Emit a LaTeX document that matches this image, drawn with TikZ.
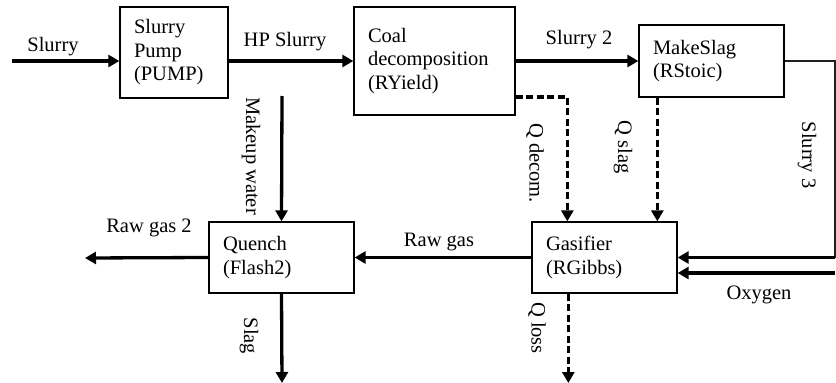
\documentclass[tikz,border=0pt]{standalone}
\usepackage{fontspec}
\setmainfont{Liberation Serif}
\usetikzlibrary{arrows.meta, positioning, calc}
\definecolor{linegrey}{HTML}{202020}

\begin{document}
\begin{tikzpicture}[
    x=1pt, y=-1pt,
    font=\fontsize{20.5}{23.5}\selectfont,
    >={Triangle[length=11pt,width=12pt]},
    unit/.style={draw=black, line width=1.3pt, rectangle, align=left, inner xsep=14pt, inner ysep=0pt},
    flow/.style={->, line width=3.3pt},
    heat/.style={->, line width=3.3pt, dash pattern=on 7pt off 3.5pt},
    thinline/.style={draw=linegrey, line width=1.5pt},
    tag/.style={inner sep=1pt},
    vtag/.style={inner sep=1pt, rotate=-90},
]
\useasboundingbox (0,0) rectangle (836,383);

% ================= UNIT BLOCKS =================
\node[unit, minimum width=108pt, minimum height=91pt, text width=80pt] (pump) at (174,52.5) {Slurry\\Pump\\(PUMP)};
\node[unit, minimum width=161pt, minimum height=108pt, text width=133pt] (coal) at (434.5,61) {Coal\\decomposition\\(RYield)\\[14pt]};
\node[unit, minimum width=145pt, minimum height=72pt, text width=117pt] (slag) at (711.5,61) {MakeSlag\\(RStoic)\\[4pt]};
\node[unit, minimum width=145pt, minimum height=71pt, text width=117pt] (quench) at (281.5,257.5) {Quench\\(Flash2)};
\node[unit, minimum width=145pt, minimum height=71pt, text width=117pt] (gasifier) at (604.5,257.5) {Gasifier\\(RGibbs)};

% ================= FREE ENDS =================
\coordinate (feed) at (12,61);
\coordinate (water) at (282,96);
\coordinate (gasout) at (85,258);
\coordinate (slagout) at (282,383);
\coordinate (corner) at (835,61);
\coordinate (s3in) at (835,257.5);
\coordinate (oxyin) at (835,273);
\coordinate (qdec) at ($(gasifier.north west)+(36,0)$);
\coordinate (qslag) at ($(gasifier.north west)+(126,0)$);
\coordinate (qloss) at ($(gasifier.south west)+(37,0)$);

% ================= MAIN STREAMS =================
\draw[flow] (feed) -- (pump.west |- feed);
\draw[flow] (pump.east |- feed) -- (coal.west |- feed);
\draw[flow] (coal.east) -- (slag.west);
\draw[thinline] (slag.east) -- (corner) -- (s3in);
\draw[flow] (s3in) -- (gasifier.east);
\draw[flow] (oxyin) -- (gasifier.east |- oxyin);
\draw[flow] (gasifier.west) -- (quench.east);
\draw[flow] (quench.west) -- (gasout);
\draw[flow] (water) -- (quench.north);
\draw[flow] (quench.south) -- (slagout);

% ================= HEAT STREAMS =================
\draw[heat] (coal.east |- 0,97) -| (qdec);
\draw[heat] (slag.south -| qslag) -- (qslag);
\draw[heat] (qloss) -- (qloss |- slagout);

% ================= LABELS =================
\node[tag] (lfeed) at (53,47) {Slurry};
\node[tag] (lhp) at (285,42) {HP Slurry};
\node[tag] (ls2) at (579,40) {Slurry 2};
\node[tag] (lraw2) at (149,228) {Raw gas 2};
\node[tag] (lraw) at (439,242) {Raw gas};
\node[tag] (loxy) at (759,295) {Oxygen};
\node[vtag] (lwater) at (251,156) {Makeup water};
\node[vtag] (lslag) at (249,336) {Slag};
\node[vtag] (lqdec) at (535,163) {Q decom.};
\node[vtag] (lqslag) at (623,147) {Q slag};
\node[vtag] (ls3) at (807,155) {Slurry 3};
\node[vtag] (lqloss) at (537,328) {Q loss};

\end{tikzpicture}
\end{document}
